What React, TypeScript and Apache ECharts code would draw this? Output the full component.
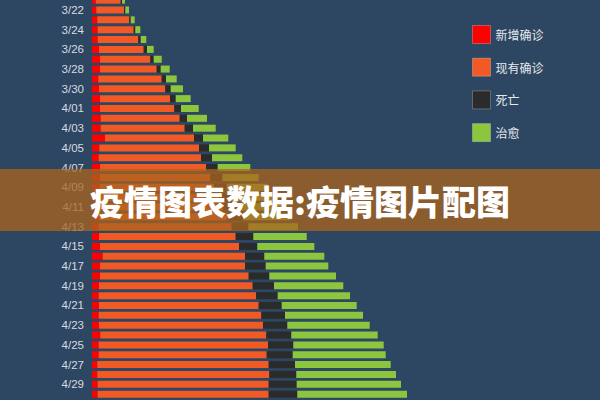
import React, { useEffect, useRef } from "react";
import * as echarts from "echarts";

const dates = [
  "3/21", "3/22", "3/23", "3/24", "3/25", "3/26", "3/27", "3/28", "3/29", "3/30", "3/31",
  "4/01", "4/02", "4/03", "4/04", "4/05", "4/06", "4/07", "4/08", "4/09", "4/10",
  "4/11", "4/12", "4/13", "4/14", "4/15", "4/16", "4/17", "4/18", "4/19", "4/20",
  "4/21", "4/22", "4/23", "4/24", "4/25", "4/26", "4/27", "4/28", "4/29", "4/30", "5/01",
];

const newConfirmed = [
  370, 430, 530, 570, 570, 700, 800, 800, 630, 700, 800,
  800, 870, 870, 1300, 730, 670, 800, 800, 750, 750,
  750, 700, 670, 700, 800, 1070, 800, 800, 700, 670,
  700, 670, 700, 830, 670, 670, 530, 530, 570, 570, 600,
];

const currentConfirmed = [
  2500, 2770, 3200, 3600, 4060, 4470, 5030, 5670, 6340, 6630, 7000,
  7430, 7900, 8400, 8900, 9970, 10230, 10600, 11030, 11450, 11950,
  12350, 12850, 13300, 13670, 13900, 14230, 14500, 14870, 15370, 15730,
  15970, 16260, 16400, 16600, 16930, 16800, 17140, 17200, 17100, 17100, 17200,
];

const deaths = [
  130, 130, 140, 160, 240, 330, 340, 400, 430, 540, 570,
  670, 730, 830, 900, 1000, 1100, 1170, 1200, 1270, 1300,
  1450, 1550, 1660, 1760, 1830, 1930, 2070, 2060, 2130, 2170,
  2300, 2370, 2430, 2500, 2530, 2600, 2630, 2700, 2800, 2860, 2930,
];

const recovered = [
  300, 370, 400, 500, 560, 670, 800, 900, 1070, 1230, 1500,
  1770, 2000, 2270, 2530, 2670, 3030, 3260, 3640, 4100, 4350,
  4550, 4750, 4970, 5340, 5700, 6000, 6260, 6670, 6930, 7230,
  7500, 7800, 8240, 8640, 9040, 9300, 9570, 9970, 10430, 10970, 11340,
];

const seriesNames = ["新增确诊", "现有确诊", "死亡", "治愈"];
const seriesColors = ["#ff0000", "#f15a24", "#2b2b2b", "#8cc63f"];
const titleText = "疫情图表数据:疫情图片配图";

// the chart canvas is taller than the window and shifted up so that the
// first and last rows are cut off as in the reference
const OFF = 20;

export default function App() {
  const ref = useRef<HTMLDivElement>(null);

  useEffect(() => {
    if (!ref.current) return;
    const chart = echarts.init(ref.current, null, { renderer: "svg" });
    const values = [newConfirmed, currentConfirmed, deaths, recovered];
    chart.setOption({
      animation: false,
      backgroundColor: "#2d4662",
      grid: { left: 92, width: 500, top: OFF - 4.8, height: 413.7, containLabel: false },
      legend: {
        orient: "vertical",
        left: 467,
        top: OFF + 20,
        itemWidth: 18,
        itemHeight: 18,
        itemGap: 13.7,
        icon: "rect",
        textStyle: {
          color: "#e6e9ec",
          fontSize: 12,
          fontFamily: "Noto Sans CJK SC, sans-serif",
        },
        data: seriesNames.map((n) => ({
          name: n,
          itemStyle: { borderColor: "rgba(255,255,255,0.25)", borderWidth: 1 },
        })),
      },
      xAxis: {
        type: "value",
        min: 0,
        max: 50000,
        show: false,
      },
      yAxis: {
        type: "category",
        inverse: true,
        data: dates,
        axisLine: { show: false },
        axisTick: { show: false },
        splitLine: { show: false },
        axisLabel: {
          color: "#d5dbe1",
          fontSize: 11.5,
          fontFamily: "Liberation Sans, Arial, sans-serif",
          margin: 8,
          padding: [6, 0, 0, 0],
          interval: (index: number) => index % 2 === 1 && index < dates.length - 1,
        },
      },
      series: seriesNames.map((name, i) => ({
        name,
        type: "bar",
        stack: "total",
        barWidth: 7,
        itemStyle: { color: seriesColors[i] },
        data: values[i],
      })),
      graphic: [
        {
          type: "rect",
          z: 100,
          shape: { x: 0, y: OFF + 169, width: 600, height: 62 },
          style: { fill: "rgba(170,100,30,0.75)" },
        },
        {
          type: "text",
          z: 101,
          x: 300,
          y: OFF + 200,
          style: {
            text: titleText,
            fill: "#ffffff",
            fontSize: 34,
            fontWeight: 900,
            fontFamily: "Noto Sans CJK SC, sans-serif",
            align: "center",
            verticalAlign: "middle",
          },
        },
      ],
    });
    return () => chart.dispose();
  }, []);

  return (
    <div
      ref={ref}
      style={{ position: "fixed", left: 0, top: -OFF, width: 600, height: 400 + 2 * OFF }}
    />
  );
}
